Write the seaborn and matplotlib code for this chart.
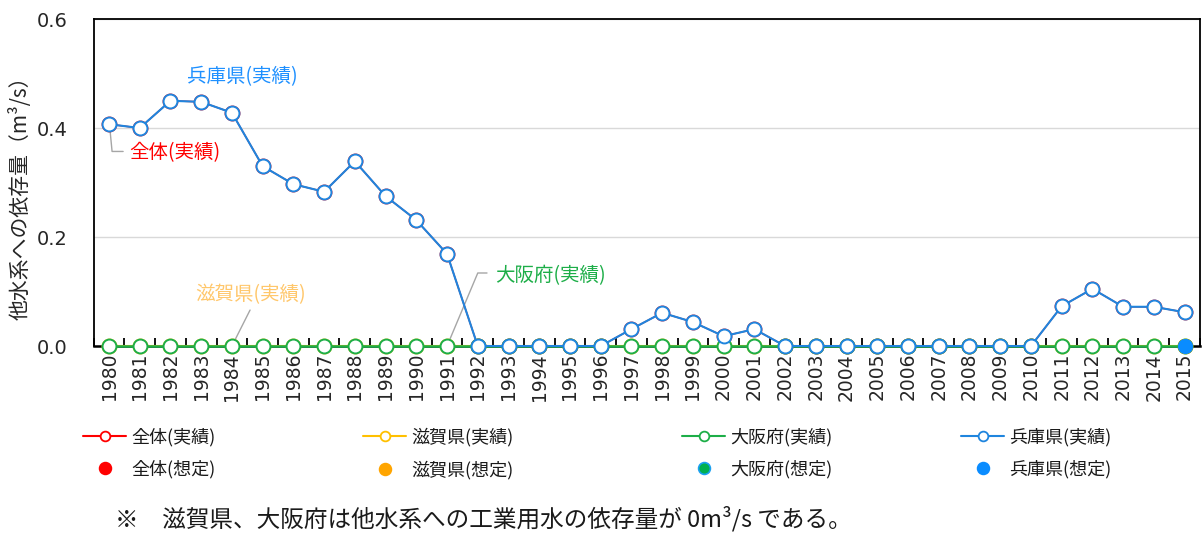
import pandas as pd
import seaborn as sns
import matplotlib.pyplot as plt
from matplotlib.lines import Line2D
from matplotlib.ticker import MultipleLocator, FormatStrFormatter

years = list(range(1980, 2016))

# 実績 (m3/s)
zentai = [0.407, 0.400, 0.450, 0.448, 0.428, 0.330, 0.297, 0.283, 0.339, 0.275, 0.231, 0.169,
          0.0, 0.0, 0.0, 0.0, 0.0,
          0.031, 0.061, 0.044, 0.018, 0.031,
          0.0, 0.0, 0.0, 0.0, 0.0, 0.0, 0.0, 0.0, 0.0,
          0.073, 0.105, 0.072, 0.072, 0.062]
shiga = [0.0, 0.0, 0.0, 0.0, 0.0, 0.0, 0.0, 0.0, 0.0, 0.0, 0.0, 0.0,
         0.0, 0.0, 0.0, 0.0, 0.0, 0.0, 0.0, 0.0, 0.0, 0.0, 0.0, 0.0,
         0.0, 0.0, 0.0, 0.0, 0.0, 0.0, 0.0, 0.0, 0.0, 0.0, 0.0, 0.0]
osaka = [0.0, 0.0, 0.0, 0.0, 0.0, 0.0, 0.0, 0.0, 0.0, 0.0, 0.0, 0.0,
         0.0, 0.0, 0.0, 0.0, 0.0, 0.0, 0.0, 0.0, 0.0, 0.0, 0.0, 0.0,
         0.0, 0.0, 0.0, 0.0, 0.0, 0.0, 0.0, 0.0, 0.0, 0.0, 0.0, 0.0]
hyogo = [0.407, 0.400, 0.450, 0.448, 0.428, 0.330, 0.297, 0.283, 0.339, 0.275, 0.231, 0.169,
         0.0, 0.0, 0.0, 0.0, 0.0,
         0.031, 0.061, 0.044, 0.018, 0.031,
         0.0, 0.0, 0.0, 0.0, 0.0, 0.0, 0.0, 0.0, 0.0,
         0.073, 0.105, 0.072, 0.072, 0.062]

# 想定
sotei_year = [2015]
zentai_sotei = [0.0]
shiga_sotei = [0.0]
osaka_sotei = [0.0]
hyogo_sotei = [0.0]

names = ['全体', '滋賀県', '大阪府', '兵庫県']
line_colors = {'全体': '#FF0000', '滋賀県': '#FFC000', '大阪府': '#1DAE48', '兵庫県': '#1F85DE'}
dot_colors = {'全体': '#FF0000', '滋賀県': '#FFA500', '大阪府': '#00B050', '兵庫県': '#0A8CFF'}
dot_edges = {'全体': '#FF0000', '滋賀県': '#FFA500', '大阪府': '#1AA0F0', '兵庫県': '#0A8CFF'}

df = pd.DataFrame({'年': years, '全体': zentai, '滋賀県': shiga, '大阪府': osaka, '兵庫県': hyogo})
long = df.melt(id_vars='年', var_name='地域', value_name='依存量')
df_s = pd.DataFrame({'年': sotei_year, '全体': zentai_sotei, '滋賀県': shiga_sotei,
                     '大阪府': osaka_sotei, '兵庫県': hyogo_sotei})
long_s = df_s.melt(id_vars='年', var_name='地域', value_name='依存量')

sns.set_theme(style='white')
plt.rcParams['font.family'] = ['Noto Sans CJK JP', 'DejaVu Sans']

fig = plt.figure(figsize=(12.02, 5.34), dpi=100)
ax = fig.add_axes([0.0779, 0.352, 0.9204, 0.6124])

lws = {'全体': 1.1, '滋賀県': 1.5, '大阪府': 1.8, '兵庫県': 1.5}
for i, n in enumerate(names):
    sub = long[long['地域'] == n]
    c = line_colors[n]
    sns.lineplot(data=sub, x='年', y='依存量', color=c, linewidth=lws[n], marker='o',
                 markersize=10, markerfacecolor='white', markeredgecolor=c,
                 markeredgewidth=1.4, ax=ax, zorder=3 + i, clip_on=False, legend=False)

for i, n in enumerate(names):
    sub = long_s[long_s['地域'] == n]
    sns.scatterplot(data=sub, x='年', y='依存量', color=dot_colors[n], edgecolor=dot_edges[n],
                    s=95, linewidth=1.0, ax=ax, zorder=10 + i, clip_on=False, legend=False)

ax.set_xlim(1979.5, 2015.5)
ax.set_ylim(0, 0.6)
ax.set_xticks(years)
ax.set_xticklabels([str(y) for y in years], rotation=90, fontsize=13.5, family='DejaVu Sans')
ax.xaxis.set_minor_locator(MultipleLocator(1, offset=0.5))
ax.tick_params(axis='x', which='major', length=0, pad=5)
ax.tick_params(axis='x', which='minor', bottom=True, direction='in', length=6, width=1.3, color='black')
ax.yaxis.set_major_locator(MultipleLocator(0.2))
ax.yaxis.set_major_formatter(FormatStrFormatter('%.1f'))
ax.tick_params(axis='y', length=0, pad=19, labelsize=14)
for t in ax.get_yticklabels():
    t.set_family('DejaVu Sans')
ax.grid(axis='y', color='#D9D9D9', linewidth=1)
ax.grid(axis='x', visible=False)
ax.set_xlabel('')
ax.set_ylabel('他水系への依存量（m³/s）', fontsize=15)
ax.yaxis.set_label_coords(-0.0557, 0.47)
for s in ['left', 'top', 'right']:
    ax.spines[s].set_color('black')
    ax.spines[s].set_linewidth(1.3)
ax.spines['bottom'].set_color('black')
ax.spines['bottom'].set_linewidth(1.8)

# ラベル
ax.text(1984.33, 0.4936, '兵庫県(実績)', color='#1E90FF', fontsize=14, ha='center', va='center')
ax.text(1982.15, 0.354, '全体(実績)', color='#FF0000', fontsize=14, ha='center', va='center')
ax.plot([1980.03, 1980.1, 1980.46], [0.398, 0.357, 0.357], color='#A6A6A6', lw=1, zorder=2)
ax.text(1984.62, 0.0936, '滋賀県(実績)', color='#FFC76B', fontsize=14, ha='center', va='center')
ax.plot([1984.0, 1984.59], [0.0, 0.066], color='#A6A6A6', lw=1, zorder=2)
ax.text(1994.38, 0.130, '大阪府(実績)', color='#1DAE48', fontsize=14, ha='center', va='center')
ax.plot([1991.0, 1992.0, 1992.3], [0.0, 0.134, 0.134], color='#A6A6A6', lw=1, zorder=2)

# 凡例
col_x = [83, 363, 682, 961]
for x0, n in zip(col_x, names):
    c = line_colors[n]
    h1 = Line2D([], [], color=c, lw=1.5, marker='o', markersize=7, markerfacecolor='white',
                markeredgecolor=c, markeredgewidth=1.3)
    h2 = Line2D([], [], linestyle='none', marker='o', markersize=8.5,
                markerfacecolor=dot_colors[n], markeredgecolor=dot_edges[n], markeredgewidth=1.2)
    fig.legend([h1, h2], [n + '(実績)', n + '(想定)'], loc='upper left',
               bbox_to_anchor=(x0 / 1202, 1 - 428 / 534), frameon=False, fontsize=13,
               handlelength=2.4, handletextpad=0.25, borderpad=0, borderaxespad=0,
               labelspacing=0.75, labelcolor='#1A1A1A')

fig.text(115 / 1202, 1 - 519 / 534, '※　滋賀県、大阪府は他水系への工業用水の依存量が 0m³/s である。',
         fontsize=17, va='center', ha='left', color='#1A1A1A')

fig.savefig('out.png', dpi=100)
